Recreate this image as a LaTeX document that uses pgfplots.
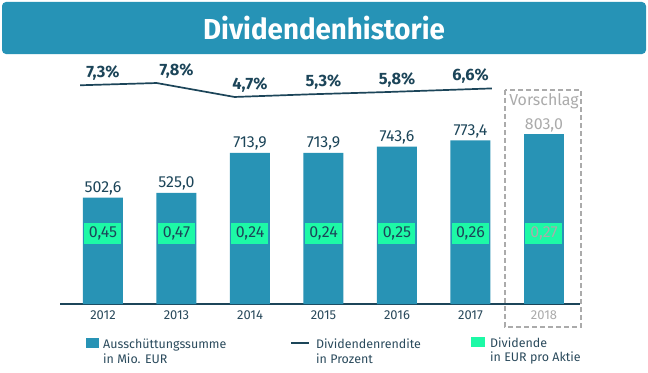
\documentclass[border=0pt]{standalone}
\usepackage{pgfplots}
\pgfplotsset{compat=1.18}
\usepackage{graphicx}
\usepackage{fontspec}
\setmainfont{Fira Sans}
\definecolor{banner}{HTML}{2693B6}
\definecolor{barc}{HTML}{2893B5}
\definecolor{dark}{HTML}{1C4559}
\definecolor{txt}{HTML}{2A4A5C}
\definecolor{mint}{HTML}{1DF9A6}
\definecolor{greyd}{HTML}{ABABAB}
\pgfplotsset{/pgf/number format/assume math mode=true}
\begin{document}
\begin{tikzpicture}[x=1bp,y=1bp]
\useasboundingbox (0,0) rectangle (648,372);
\fill[white] (0,0) rectangle (648,372);
\fill[banner, rounded corners=4bp] (2,318) rectangle (646,370);
\node[text=white, font=\fontsize{29}{30}\selectfont\bfseries] at (324,344) {\scalebox{0.96}[1]{Dividendenhistorie}};
% dashed proposal frame
\draw[greyd, line width=2bp, dash pattern=on 5bp off 3bp] (505,282) rectangle (581,45);

\begin{axis}[
  at={(60bp,68bp)}, anchor=south west,
  scale only axis, width=520bp, height=211.7bp,
  xmin=-0.585, xmax=6.49, ymin=0, ymax=1000,
  axis x line=bottom, hide y axis,
  x axis line style={-, dark, line width=1.5bp},
  xtick={0,...,6},
  xticklabels={2012,2013,2014,2015,2016,2017,{\textcolor{greyd}{2018}}},
  major tick length=0pt,
  xticklabel style={font=\fontsize{13}{14}\selectfont, text=txt, yshift=-3bp},
  clip=false,
]
% Ausschuettungssumme 2012-2017
\addplot[ybar, bar width=40bp, bar shift=0pt, fill=barc, draw=none,
  nodes near coords={\pgfmathprintnumber[assume math mode=true,fixed,fixed zerofill,precision=1,use comma]{\pgfplotspointmeta}},
  every node near coord/.append style={anchor=base, yshift=5bp, inner sep=0pt, text=dark, font=\fontsize{16}{17}\selectfont}]
  coordinates {(0,502.6) (1,525.0) (2,713.9) (3,713.9) (4,743.6) (5,773.4)};
% proposal 2018
\addplot[ybar, bar width=40bp, bar shift=0pt, fill=barc, draw=none,
  nodes near coords={\pgfmathprintnumber[assume math mode=true,fixed,fixed zerofill,precision=1,use comma]{\pgfplotspointmeta}},
  every node near coord/.append style={anchor=base, yshift=5bp, inner sep=0pt, text=greyd, font=\fontsize{16}{17}\selectfont}]
  coordinates {(6,803.0)};
\addplot[draw=none, mark=none, point meta=explicit symbolic,
  nodes near coords,
  every node near coord/.append style={anchor=base, yshift=28.5bp, inner sep=0pt, text=greyd, font=\fontsize{16}{17}\selectfont}]
  coordinates {(6,803.0) [Vorschlag]};
% Dividende pro Aktie
\addplot[draw=none, mark=none, point meta=explicit,
  nodes near coords={\pgfmathprintnumber[assume math mode=true,fixed,fixed zerofill,precision=2,use comma]{\pgfplotspointmeta}},
  every node near coord/.append style={anchor=center, fill=mint, text=dark, inner sep=0pt,
     minimum width=37bp, minimum height=21bp, font=\fontsize{16}{17}\selectfont}]
  coordinates {(0,333) [0.45] (1,333) [0.47] (2,333) [0.24] (3,333) [0.24] (4,333) [0.25] (5,333) [0.26]};
\addplot[draw=none, mark=none, point meta=explicit,
  nodes near coords={\pgfmathprintnumber[assume math mode=true,fixed,fixed zerofill,precision=2,use comma]{\pgfplotspointmeta}},
  every node near coord/.append style={anchor=center, fill=mint, text=greyd, inner sep=0pt,
     minimum width=37bp, minimum height=21bp, font=\fontsize{16}{17}\selectfont}]
  coordinates {(6,333) [0.27]};
\end{axis}

\begin{axis}[
  at={(60bp,68bp)}, anchor=south west,
  scale only axis, width=520bp, height=211.7bp,
  xmin=-0.585, xmax=6.49, ymin=-41.3, ymax=5.74,
  hide axis, clip=false,
]
% Dividendenrendite
\addplot[dark, line width=1.7bp, mark=none] coordinates {(-0.31,7.3) (0.73,7.8) (1.79,4.7) (2.83,5.3) (3.87,5.8) (5.29,6.6)};
\addplot[draw=none, mark=none, point meta=y,
  nodes near coords={\pgfmathprintnumber[assume math mode=true,fixed,fixed zerofill,precision=1,use comma]{\pgfplotspointmeta}\%},
  every node near coord/.append style={anchor=base, yshift=7.7bp, inner sep=0pt, text=dark, font=\fontsize{16.5}{17}\selectfont\bfseries}]
  coordinates {(0,7.3) (1,7.8) (2,4.7) (3,5.3) (4,5.8) (5,6.6)};
\end{axis}

% legend
\fill[barc] (86,24) rectangle (99,34);
\node[anchor=base west, inner sep=0pt, text=txt, font=\fontsize{12.5}{13}\selectfont] at (103,23.5) {Ausschüttungssumme};
\node[anchor=base west, inner sep=0pt, text=txt, font=\fontsize{12.5}{13}\selectfont] at (103,8.5) {in Mio. EUR};
\draw[dark, line width=1.7bp] (291,29) -- (309,29);
\node[anchor=base west, inner sep=0pt, text=txt, font=\fontsize{12.5}{13}\selectfont] at (316,23.5) {Dividendenrendite};
\node[anchor=base west, inner sep=0pt, text=txt, font=\fontsize{12.5}{13}\selectfont] at (316,8.5) {in Prozent};
\fill[mint] (471,25) rectangle (485,35);
\node[anchor=base west, inner sep=0pt, text=txt, font=\fontsize{12.5}{13}\selectfont] at (490,25) {Dividende};
\node[anchor=base west, inner sep=0pt, text=txt, font=\fontsize{12.5}{13}\selectfont] at (490,10.5) {in EUR pro Aktie};
\end{tikzpicture}
\end{document}
